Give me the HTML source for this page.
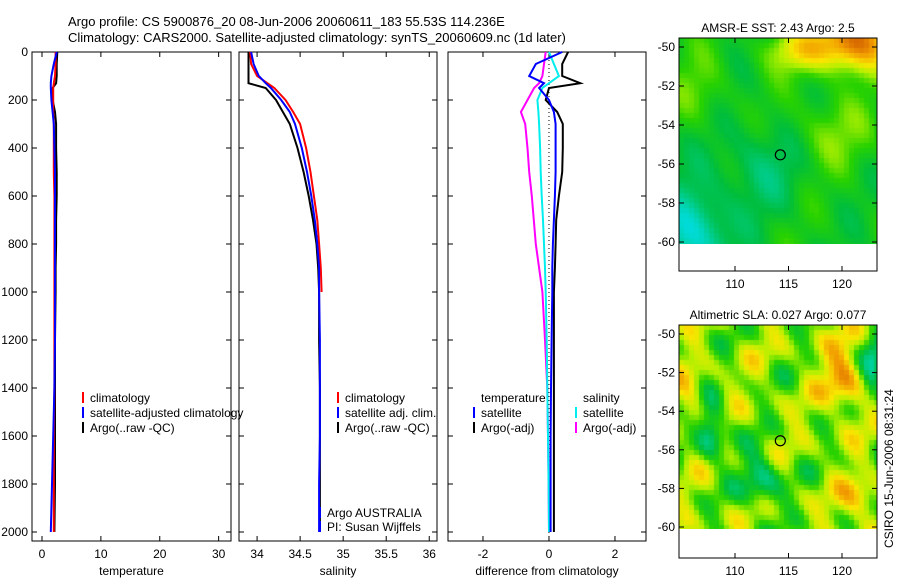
<!DOCTYPE html>
<html><head><meta charset="utf-8"><style>
body{margin:0;background:#fff;width:900px;height:580px;overflow:hidden;font-family:"Liberation Sans",sans-serif}
svg text{font-family:"Liberation Sans",sans-serif;font-size:12px;fill:#000}
canvas{position:absolute}
</style></head><body>
<svg id="s" width="900" height="580" style="position:absolute;left:0;top:0">
<text x="68" y="26" style="font-size:13px">Argo profile: CS 5900876_20 08-Jun-2006 20060611_183 55.53S 114.236E</text>
<text x="68" y="42" style="font-size:13px">Climatology: CARS2000. Satellite-adjusted climatology: synTS_20060609.nc (1d later)</text>
</svg>
<canvas id="m1" width="198" height="206" style="left:679px;top:38px"></canvas>
<canvas id="m2" width="198" height="204" style="left:679px;top:325px"></canvas>
<svg id="s2" width="900" height="580" style="position:absolute;left:0;top:0"></svg>
<script>
// depth grid (m)
const depths=[0,50,100,130,150,200,250,300,400,500,600,700,800,900,1000,1200,1400,1600,1800,2000];
// temperature panel
const tempClim=[2.3,2.3,2.2,2.0,1.9,1.9,1.9,2.0,2.0,2.0,2.1,2.1,2.1,2.1,2.1,2.1,2.1,2.0,2.0,2.0];
const tempSat=[2.5,2.0,1.6,1.5,1.5,1.6,1.8,2.0,2.1,2.2,2.2,2.2,2.2,2.2,2.2,2.2,2.1,1.9,1.7,1.5];
const tempArgo=[2.6,2.5,2.5,2.4,1.8,1.8,2.2,2.4,2.4,2.5,2.5,2.4,2.4,2.3,2.3,2.2,2.2,2.2,2.2,2.1];
// salinity panel
const salClim=[33.92,33.93,34.0,34.12,34.2,34.33,34.42,34.5,34.57,34.62,34.66,34.7,34.72,34.74,34.75,null,null,null,null,null];
const salSat=[33.93,33.96,34.02,34.1,34.16,34.28,34.38,34.44,34.52,34.58,34.63,34.67,34.7,34.72,34.72,34.73,34.73,34.73,34.72,34.72];
const salArgo=[33.9,33.9,33.9,33.9,34.1,34.22,34.3,34.38,34.47,34.54,34.6,34.65,34.69,34.71,34.72,34.72,34.73,34.73,34.73,34.73];
// difference panel
const dTempArgo=[0.58,0.4,0.4,0.95,0.0,-0.1,0.25,0.42,0.42,0.4,0.3,0.22,0.2,0.18,0.15,0.15,0.15,0.15,0.15,0.15];
const dTempSat=[0.4,-0.4,-0.6,-0.15,-0.3,0.0,0.15,0.2,0.2,0.2,0.18,0.15,0.12,0.1,0.1,0.08,0.06,0.05,0.05,0.05];
const dSalSat=[0.0,0.15,0.3,0.0,-0.2,-0.35,-0.32,-0.3,-0.27,-0.25,-0.22,-0.18,-0.15,-0.12,-0.1,-0.07,-0.05,-0.03,-0.01,0.0];
const dSalArgo=[-0.1,-0.15,-0.2,-0.3,-0.45,-0.65,-0.85,-0.72,-0.65,-0.6,-0.52,-0.46,-0.4,-0.3,-0.2,-0.12,-0.05,-0.03,-0.01,0.0];
const tempTicks=[0,10,20,30], salTicks=[34,34.5,35,35.5,36], diffTicks=[-2,0,2];
const depthTicks=[0,200,400,600,800,1000,1200,1400,1600,1800,2000];
const latTicks=[-50,-52,-54,-56,-58,-60], lonTicks=[110,115,120];

const NS='http://www.w3.org/2000/svg';
const S=document.getElementById('s'), S2=document.getElementById('s2');
function el(p,t,a){const e=document.createElementNS(NS,t);for(const k in a)e.setAttribute(k,a[k]);p.appendChild(e);return e;}
const yD=d=>52+d*0.24;
const panels=[
 {x0:32,x1:231,v0:-1.7,v1:32.1,ticks:tempTicks,label:'temperature',name:'temperature-panel'},
 {x0:239,x1:437,v0:33.79,v1:36.09,ticks:salTicks,label:'salinity',name:'salinity-panel'},
 {x0:448,x1:646,v0:-3.06,v1:2.94,ticks:diffTicks,label:'difference from climatology',name:'difference-panel'}];
panels.forEach((p,i)=>{
 p.x=v=>p.x0+(v-p.v0)/(p.v1-p.v0)*(p.x1-p.x0);
 const g=el(S,'g',{});
 
 
 el(g,'rect',{x:p.x0,y:52,width:p.x1-p.x0,height:489,fill:'none',stroke:'#000','stroke-width':1});
 p.ticks.forEach(t=>{const x=p.x(t);
  el(g,'line',{x1:x,x2:x,y1:541,y2:536,stroke:'#000'});el(g,'line',{x1:x,x2:x,y1:52,y2:57,stroke:'#000'});
  const tx=el(g,'text',{x:x,y:558,'text-anchor':'middle'});tx.textContent=t;
  
  });
 depthTicks.forEach(d=>{const y=yD(d);
  el(g,'line',{x1:p.x0,x2:p.x0+5,y1:y,y2:y,stroke:'#000'});el(g,'line',{x1:p.x1,x2:p.x1-5,y1:y,y2:y,stroke:'#000'});
  if(i==0){const tx=el(g,'text',{x:28,y:y+4,'text-anchor':'end'});tx.textContent=d;
   
   }});
 const xl=el(g,'text',{x:(p.x0+p.x1)/2,y:575,'text-anchor':'middle'});xl.textContent=p.label;
 
 
});
function line(p,vals,col,name,w){let pts=[];vals.forEach((v,k)=>{if(v!==null)pts.push(p.x(v).toFixed(1)+','+yD(depths[k]).toFixed(1));});
 const e=el(S,'polyline',{points:pts.join(' '),fill:'none',stroke:col,'stroke-width':w||2});
 
 }
const P=panels;
line(P[0],tempArgo,'#000','temp-argo-line');line(P[0],tempClim,'#f00','temp-climatology-line');line(P[0],tempSat,'#00f','temp-satellite-line');
line(P[1],salArgo,'#000','sal-argo-line');line(P[1],salClim,'#f00','sal-climatology-line');line(P[1],salSat,'#00f','sal-satellite-line');
const zl=el(S,'line',{x1:P[2].x(0),x2:P[2].x(0),y1:52,y2:541,stroke:'#000','stroke-dasharray':'1,3'});


line(P[2],dTempArgo,'#000','diff-temp-argo-line');line(P[2],dSalArgo,'#f0f','diff-sal-argo-line');
line(P[2],dSalSat,'#0ee','diff-sal-satellite-line');line(P[2],dTempSat,'#00f','diff-temp-satellite-line');
function legend(items){items.forEach(([x,y,c,t])=>{
 if(c){const r=el(S,'rect',{x:x-8,y:y-10,width:2,height:11,fill:c});}
 const tx=el(S,'text',{x:x,y:y});tx.textContent=t;
 
 });}
legend([[90,402,'#f00','climatology'],[90,417,'#00f','satellite-adjusted climatology'],[90,432,'#000','Argo(..raw -QC)'],
[345,402,'#f00','climatology'],[345,417,'#00f','satellite adj. clim.'],[345,432,'#000','Argo(..raw -QC)'],
[327,517,'#00f','Argo AUSTRALIA'],[327,531,'#00f','PI: Susan Wijffels'],
[481,402,null,'temperature'],[481,417,'#00f','satellite'],[481,432,'#000','Argo(-adj)'],
[583,402,null,'salinity'],[583,417,'#0ee','satellite'],[583,432,'#f0f','Argo(-adj)']]);
// maps
function cmap(v){const stops=[[0,[0,80,255]],[0.25,[0,220,220]],[0.45,[0,190,60]],[0.55,[40,210,0]],[0.65,[180,240,0]],[0.75,[250,230,0]],[0.88,[240,150,0]],[1,[200,80,0]]];
 v=Math.max(0,Math.min(1,v));for(let i=1;i<stops.length;i++){if(v<=stops[i][0]){const a=stops[i-1],b=stops[i],f=(v-a[0])/(b[0]-a[0]);return a[1].map((c,k)=>Math.round(c+(b[1][k]-c)*f));}}return stops[stops.length-1][1];}
function drawMap(id,fn,h){const c=document.getElementById(id).getContext('2d');const cs=5;
 for(let y=0;y<h;y+=cs)for(let x=0;x<198;x+=cs){const col=cmap(fn(x/198,y/h));c.fillStyle='rgb('+col+')';c.fillRect(x,y,cs,cs);}}
drawMap('m1',(u,v)=>{let b=0.5+0.04*Math.sin(u*13+v*7)+0.03*Math.sin(u*23-v*17);
 b+=0.45*Math.exp(-((u-0.88)**2/0.04+(v-0.0)**2/0.02));b+=0.2*Math.exp(-((u-0.6)**2/0.03+(v-0.05)**2/0.01));
 b-=0.25*Math.exp(-((u-0.05)**2/0.03+(v-0.95)**2/0.05));
 b-=0.1*Math.exp(-((u-0.4)**2/0.05+(v-0.6)**2/0.05));b+=0.1*Math.exp(-((u-0.75)**2/0.05+(v-0.45)**2/0.03));
 b+=0.08*Math.exp(-((u-0.1)**2/0.02+(v-0.25)**2/0.03));return b;},206);
drawMap('m2',(u,v)=>{let b=0.62+0.08*Math.sin(u*17+v*9)+0.07*Math.sin(u*29-v*21+1)+0.05*Math.sin(u*6+v*25+2);
 b+=0.25*Math.exp(-((u-0.82)**2/0.01+(v-0.25)**2/0.03));b+=0.2*Math.exp(-((u-0.9)**2/0.01+(v-0.85)**2/0.01));
 b-=0.3*Math.exp(-((u-0.15)**2/0.005+(v-0.5)**2/0.02));b-=0.25*Math.exp(-((u-0.4)**2/0.01+(v-0.75)**2/0.02));
 b-=0.25*Math.exp(-((u-0.97)**2/0.004+(v-0.2)**2/0.02));b+=0.15*Math.exp(-((u-0.05)**2/0.006+(v-0.35)**2/0.02));return b;},204);
function mapFrame(top,lat50,lat60,title,name){
 const g=el(S2,'g',{});
 
 
 el(g,'rect',{x:679,y:top,width:198,height:233,fill:'none',stroke:'#000'});
 const ly=l=>lat50+(l+50)/(-10)*(lat60-lat50);
 latTicks.forEach(l=>{const y=ly(l);el(g,'line',{x1:679,x2:684,y1:y,y2:y,stroke:'#000'});el(g,'line',{x1:877,x2:872,y1:y,y2:y,stroke:'#000'});
  const t=el(g,'text',{x:675,y:y+4,'text-anchor':'end'});t.textContent=l;});
 const lx=l=>735+(l-110)*10.7;
 lonTicks.forEach(l=>{const x=lx(l);el(g,'line',{x1:x,x2:x,y1:top+233,y2:top+228,stroke:'#000'});el(g,'line',{x1:x,x2:x,y1:top,y2:top+5,stroke:'#000'});
  const t=el(g,'text',{x:x,y:top+250,'text-anchor':'middle'});t.textContent=l;});
 const t=el(g,'text',{x:778,y:top-6,'text-anchor':'middle'});t.textContent=title;
 
 
 const c=el(g,'circle',{cx:lx(114.236),cy:ly(-55.53),r:5,fill:'none',stroke:'#000','stroke-width':1.2});
 
 }
mapFrame(38,47,242,'AMSR-E SST: 2.43 Argo: 2.5','sst-map');
mapFrame(325,334,527,'Altimetric SLA: 0.027 Argo: 0.077','sla-map');
const ct=el(S2,'text',{x:0,y:0,transform:'translate(893,548) rotate(-90)'});ct.textContent='CSIRO 15-Jun-2006 08:31:24';


</script>
</body></html>
